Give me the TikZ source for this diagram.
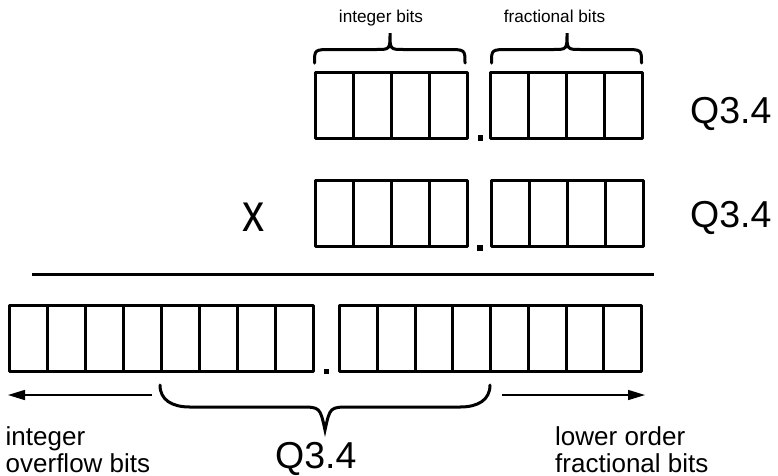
\documentclass[tikz,border=0pt]{standalone}
\usepackage{fontspec}
\setmainfont{Liberation Sans}
\usetikzlibrary{arrows.meta}
\begin{document}
\begin{tikzpicture}[x=1pt,y=-1pt,
  cell/.style={draw,line width=3pt,line join=round,inner sep=0pt,minimum width=38pt,minimum height=66pt},
  radixdot/.style={fill,inner sep=0pt,minimum size=5.5pt},
  brace/.style={line width=3pt,line cap=round},
  shiftarrow/.style={line width=1.5pt,-{Triangle[length=17pt,width=10pt]}},
  bigtext/.style={font=\fontsize{37.5}{40}\selectfont,inner sep=0pt},
  midtext/.style={font=\fontsize{26}{27}\selectfont,inner sep=0pt},
  smalltext/.style={font=\fontsize{17.2}{20}\selectfont,inner sep=0pt}
]
\useasboundingbox (0,0) rectangle (778,475);

% registers
\foreach \i in {0,...,3} {
  \node[cell] (ai\i) at ({315+19+38*\i},105) {};
  \node[cell] (af\i) at ({490+19+38*\i},105) {};
  \node[cell] (bi\i) at ({315.5+19+38*\i},213.5) {};
  \node[cell] (bf\i) at ({491+19+38*\i},213.5) {};
}
\foreach \i in {0,...,7} {
  \node[cell] (ci\i) at ({9.5+19+38*\i},338) {};
  \node[cell,minimum width=37.75pt] (cf\i) at ({339.5+18.875+37.75*\i},338) {};
}

% radix points
\node[radixdot] (d1) at (480.5,138) {};
\node[radixdot] (d2) at (480,248) {};
\node[radixdot] (d3) at (326.5,371.5) {};

% result line
\coordinate (l1) at (32,274.5);
\coordinate (l2) at (654,274.5);
\draw[line width=3pt] (l1) -- (l2);

% labels
\node[smalltext,anchor=base] (tint) at (381,22.5) {integer bits};
\node[smalltext,anchor=base] (tfrac) at (554.5,22.5) {fractional bits};
\node[bigtext,anchor=base west] (q1) at (690,123) {Q3.4};
\node[bigtext,anchor=base west] (q2) at (690,227) {Q3.4};
\node[bigtext,anchor=base west] (q3) at (275,468) {Q3.4};
\node[font=\fontsize{54}{60}\selectfont,inner sep=0pt] (times) at (253.5,217.5) {\scalebox{0.82}[1]{x}};
\node[midtext,anchor=base west,align=left] (ovf) at (5.5,472) {integer\\overflow bits};
\node[midtext,anchor=base west,align=left] (low) at (555,472) {lower order\\fractional bits};

% shift arrows
\coordinate (la1) at (152,395);
\coordinate (la2) at (8,395);
\draw[shiftarrow] (la1) -- (la2);
\coordinate (ra1) at (502,395);
\coordinate (ra2) at (645,395);
\draw[shiftarrow] (ra1) -- (ra2);

% braces
\draw[brace] (314.5,63) .. controls (314.5,49.5) .. (332,49.5) -- (376,49.5)
  .. controls (390,49.5) .. (390,33) .. controls (390,49.5) .. (404,49.5)
  -- (447,49.5) .. controls (465,49.5) .. (465,63);
\draw[brace] (491.5,63) .. controls (491.5,49.5) .. (509,49.5) -- (553,49.5)
  .. controls (567,49.5) .. (567,33) .. controls (567,49.5) .. (581,49.5)
  -- (624,49.5) .. controls (641.5,49.5) .. (641.5,63);
\draw[brace] (160,385) .. controls (160,400) and (172,407) .. (190,407) -- (300,407)
  .. controls (320,407) .. (325,430) .. controls (330,407) .. (350,407)
  -- (460,407) .. controls (478,407) and (490,400) .. (490,385);
\end{tikzpicture}
\end{document}
